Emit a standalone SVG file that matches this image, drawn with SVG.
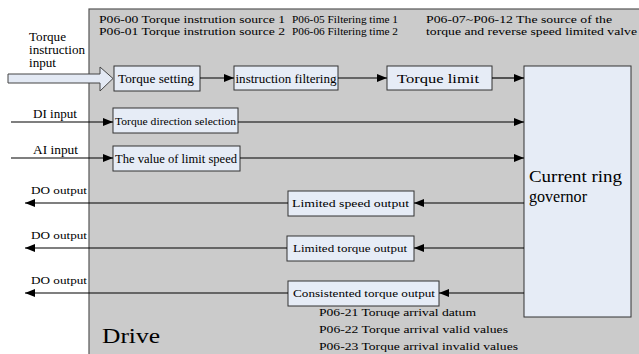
<svg xmlns="http://www.w3.org/2000/svg" width="639" height="354" viewBox="0 0 639 354" font-family="'Liberation Serif', 'DejaVu Serif', serif">
<defs>
<marker id="ah" viewBox="0 0 10 8" refX="10" refY="4" markerWidth="10" markerHeight="8" markerUnits="userSpaceOnUse" orient="auto">
<path d="M0,0 L10,4 L0,8 Z" fill="#000"/>
</marker>
</defs>
<style>
text{font-family:'Liberation Serif','Times New Roman',serif;fill:#000}
.box{fill:#e6ecf6;stroke:#333;stroke-width:1}
.ln{stroke:#000;stroke-width:1.2;fill:none}
</style>
<rect width="639" height="354" fill="#fff"/>
<g id="drive">
<rect x="89" y="9" width="560" height="360" fill="#cbcbcb" stroke="#555" stroke-width="1.2"/>
<text x="102" y="343" font-size="21" textLength="58" lengthAdjust="spacingAndGlyphs">Drive</text>
</g>
<g id="params" font-size="11">
<text x="99" y="22.5" textLength="186" lengthAdjust="spacingAndGlyphs">P06-00 Torque instrution source 1</text>
<text x="99" y="34.5" textLength="186" lengthAdjust="spacingAndGlyphs">P06-01 Torque instrution source 2</text>
<text x="292" y="22.5" textLength="106" lengthAdjust="spacingAndGlyphs">P06-05 Filtering time 1</text>
<text x="292" y="34.5" textLength="106" lengthAdjust="spacingAndGlyphs">P06-06 Filtering time 2</text>
<text x="426" y="22.5" textLength="186" lengthAdjust="spacingAndGlyphs">P06-07~P06-12 The source of the</text>
<text x="426" y="34.5" textLength="211" lengthAdjust="spacingAndGlyphs">torque and reverse speed limited valve</text>
</g>
<g id="ext-labels" font-size="11.5">
<text x="29" y="41" textLength="37" lengthAdjust="spacingAndGlyphs">Torque</text>
<text x="29" y="54" textLength="56" lengthAdjust="spacingAndGlyphs">instruction</text>
<text x="29" y="67" textLength="27" lengthAdjust="spacingAndGlyphs">input</text>
<text x="33" y="118" textLength="44" lengthAdjust="spacingAndGlyphs">DI input</text>
<text x="33" y="154" textLength="45" lengthAdjust="spacingAndGlyphs">AI input</text>
<text x="31" y="194" font-size="10.5" textLength="56" lengthAdjust="spacingAndGlyphs">DO output</text>
<text x="31" y="239" font-size="10.5" textLength="56" lengthAdjust="spacingAndGlyphs">DO output</text>
<text x="31" y="284" font-size="10.5" textLength="56" lengthAdjust="spacingAndGlyphs">DO output</text>
</g>
<g id="input-arrow">
<path d="M8,74 L100,74 L100,67 L113,78.5 L100,91 L100,83 L8,83 Z" fill="#e3e9f4" stroke="#444" stroke-width="1"/>
</g>
<g id="torque-setting">
<rect class="box" x="114" y="66" width="86" height="25"/>
<text x="118" y="82.5" font-size="12" textLength="76" lengthAdjust="spacingAndGlyphs">Torque setting</text>
</g>
<g id="instruction-filtering">
<rect class="box" x="234" y="66" width="104" height="24"/>
<text x="235.5" y="82.5" font-size="12.5" textLength="101" lengthAdjust="spacingAndGlyphs">instruction filtering</text>
</g>
<g id="torque-limit">
<rect class="box" x="387" y="66" width="105" height="24"/>
<text x="397" y="82.5" font-size="13" textLength="82" lengthAdjust="spacingAndGlyphs">Torque limit</text>
</g>
<g id="direction-selection">
<rect class="box" x="113" y="108" width="125" height="25"/>
<text x="115" y="124.5" font-size="10.5" textLength="121" lengthAdjust="spacingAndGlyphs">Torque direction selection</text>
</g>
<g id="limit-speed-value">
<rect class="box" x="113" y="146" width="127" height="25"/>
<text x="115" y="162.5" font-size="11.5" textLength="122" lengthAdjust="spacingAndGlyphs">The value of limit speed</text>
</g>
<g id="governor">
<rect class="box" x="524" y="66" width="107" height="251"/>
<text x="529" y="182" font-size="16" textLength="93" lengthAdjust="spacingAndGlyphs">Current ring</text>
<text x="529" y="202" font-size="16" textLength="58" lengthAdjust="spacingAndGlyphs">governor</text>
</g>
<g id="limited-speed-output">
<rect class="box" x="288" y="191" width="126" height="25"/>
<text x="292" y="207" font-size="11" textLength="117" lengthAdjust="spacingAndGlyphs">Limited speed output</text>
</g>
<g id="limited-torque-output">
<rect class="box" x="287" y="236" width="127" height="25"/>
<text x="293" y="252" font-size="11" textLength="114" lengthAdjust="spacingAndGlyphs">Limited torque output</text>
</g>
<g id="consistented-output">
<rect class="box" x="288" y="281" width="151" height="25"/>
<text x="293" y="297" font-size="11" textLength="142" lengthAdjust="spacingAndGlyphs">Consistented torque output</text>
</g>
<g id="notes" font-size="11">
<text x="319" y="316" textLength="157" lengthAdjust="spacingAndGlyphs">P06-21 Toruqe arrival datum</text>
<text x="319" y="333" textLength="189" lengthAdjust="spacingAndGlyphs">P06-22 Torque arrival valid values</text>
<text x="319" y="350" textLength="199" lengthAdjust="spacingAndGlyphs">P06-23 Torque arrival invalid values</text>
</g>
<g id="connectors">
<line class="ln" x1="200" y1="78" x2="234" y2="78" marker-end="url(#ah)"/>
<line class="ln" x1="338" y1="78" x2="387" y2="78" marker-end="url(#ah)"/>
<line class="ln" x1="492" y1="78" x2="524" y2="78" marker-end="url(#ah)"/>
<line class="ln" x1="11" y1="122" x2="113" y2="122" marker-end="url(#ah)"/>
<line class="ln" x1="238" y1="122" x2="524" y2="122" marker-end="url(#ah)"/>
<line class="ln" x1="11" y1="158" x2="113" y2="158" marker-end="url(#ah)"/>
<line class="ln" x1="240" y1="158" x2="524" y2="158" marker-end="url(#ah)"/>
<line class="ln" x1="524" y1="203" x2="414" y2="203" marker-end="url(#ah)"/>
<line class="ln" x1="288" y1="203" x2="25" y2="203" marker-end="url(#ah)"/>
<line class="ln" x1="524" y1="248" x2="414" y2="248" marker-end="url(#ah)"/>
<line class="ln" x1="287" y1="248" x2="25" y2="248" marker-end="url(#ah)"/>
<line class="ln" x1="524" y1="293" x2="439" y2="293" marker-end="url(#ah)"/>
<line class="ln" x1="288" y1="293" x2="25" y2="293" marker-end="url(#ah)"/>
</g>
</svg>
